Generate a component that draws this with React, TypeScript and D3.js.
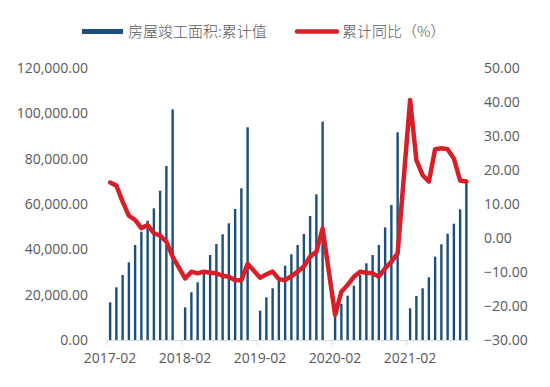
import React, { useRef, useEffect } from 'react';
import * as d3 from 'd3';

// categories: monthly, January kept as empty slot (Jan-Feb reported together)
const years = [2017, 2018, 2019, 2020, 2021];
const months = ['01', '02', '03', '04', '05', '06', '07', '08', '09', '10', '11', '12'];
const categories: string[] = [];
years.forEach(y => months.forEach(m => categories.push(`${y}-${m}`)));
const cats = categories.slice(1, 59); // 2017-02 .. 2021-11

// 房屋竣工面积:累计值 (万平方米), null = January
const completedArea: (number | null)[] = [
    16630, 23250, 28680, 34280, 41910, 47780, 52630, 58110, 65870, 76770, 101790,
    null,
    14430, 21050, 25460, 29120, 37500, 42360, 46640, 51490, 57800, 66930, 93850,
    null,
    12930, 18840, 22810, 26160, 32780, 37810, 41910, 46770, 54710, 64280, 96320,
    null,
    10280, 15880, 19550, 23960, 28680, 33840, 37500, 41910, 49720, 59560, 91640,
    null,
    13990, 19410, 22810, 27660, 36750, 42220, 46900, 51310, 57670, 69840,
];

// 累计同比 (%)
const yoyGrowth: (number | null)[] = [
    16.3, 15.4, 10.7, 6.6, 5.3, 2.9, 3.8, 1.4, 0.7, -1.1, -5.5,
    null,
    -11.9, -9.9, -10.4, -9.9, -10.2, -10.4, -11.1, -11.4, -12.4, -12.4, -7.6,
    null,
    -11.7, -10.7, -9.9, -12.1, -12.4, -11.2, -9.9, -8.4, -5.5, -4.0, 2.8,
    null,
    -22.6, -15.8, -13.8, -11.4, -9.9, -10.2, -10.4, -11.4, -8.9, -7.0, -4.5,
    null,
    40.6, 22.9, 18.5, 16.6, 26.1, 26.4, 26.1, 23.4, 16.9, 16.6,
];

const leftTicks = [0, 20000, 40000, 60000, 80000, 100000, 120000];
const rightTicks = [-30, -20, -10, 0, 10, 20, 30, 40, 50];
const xTickLabels = ['2017-02', '2018-02', '2019-02', '2020-02', '2021-02'];

const barColor = '#1c4f7c';
const lineColor = '#d81e27';
const textColor = '#595959';

const App = () => {
    const svgRef = useRef<SVGSVGElement>(null);

    const width = 550;
    const height = 387;
    const plotLeft = 107;
    const plotRight = 469.5;
    const plotTop = 68;
    const plotBottom = 340;

    useEffect(() => {
        const svg = d3.select(svgRef.current);
        svg.selectAll('*').remove();

        const x = d3.scaleBand().domain(cats).range([plotLeft, plotRight]).padding(0);
        const yL = d3.scaleLinear().domain([0, 120000]).range([plotBottom, plotTop]);
        const yR = d3.scaleLinear().domain([-30, 50]).range([plotBottom, plotTop]);
        const barW = 2.4;
        const font = '"Open Sans", "Liberation Sans", sans-serif';

        // bars
        svg.append('g')
            .selectAll('rect')
            .data(cats.map((c, i) => ({ c, v: completedArea[i] })).filter(d => d.v != null))
            .enter()
            .append('rect')
            .attr('x', d => (x(d.c) as number) + x.bandwidth() / 2 - barW / 2)
            .attr('y', d => yL(d.v as number))
            .attr('width', barW)
            .attr('height', d => plotBottom - yL(d.v as number))
            .attr('fill', barColor);

        // x axis
        svg.append('line')
            .attr('x1', plotLeft).attr('x2', plotRight)
            .attr('y1', plotBottom + 0.5).attr('y2', plotBottom + 0.5)
            .attr('stroke', '#d9d9d9').attr('stroke-width', 1);

        xTickLabels.forEach(lbl => {
            const px = x(lbl) as number;
            svg.append('line')
                .attr('x1', px).attr('x2', px)
                .attr('y1', plotBottom).attr('y2', plotBottom + 5)
                .attr('stroke', '#d9d9d9');
            svg.append('text')
                .attr('x', px + x.bandwidth() / 2)
                .attr('y', 363)
                .attr('text-anchor', 'middle')
                .attr('font-family', font)
                .attr('font-size', 14)
                .attr('fill', textColor)
                .text(lbl);
        });

        // left axis labels
        svg.append('g')
            .selectAll('text')
            .data(leftTicks)
            .enter()
            .append('text')
            .attr('x', 88)
            .attr('y', d => yL(d) + 5)
            .attr('text-anchor', 'end')
            .attr('font-family', font)
            .attr('font-size', 14)
            .attr('fill', textColor)
            .text(d => d3.format(',.2f')(d));

        // right axis labels
        svg.append('g')
            .selectAll('text')
            .data(rightTicks)
            .enter()
            .append('text')
            .attr('x', 484)
            .attr('y', d => yR(d) + 5)
            .attr('text-anchor', 'start')
            .attr('font-family', font)
            .attr('font-size', 14)
            .attr('fill', textColor)
            .text(d => d3.format('.2f')(d));

        // line (Jan gaps bridged)
        const pts = cats.map((c, i) => ({ c, v: yoyGrowth[i] })).filter(d => d.v != null);
        const line = d3.line<{ c: string; v: number | null }>()
            .x(d => (x(d.c) as number) + x.bandwidth() / 2)
            .y(d => yR(d.v as number));
        svg.append('path')
            .attr('d', line(pts))
            .attr('fill', 'none')
            .attr('stroke', lineColor)
            .attr('stroke-width', 4.5)
            .attr('stroke-linejoin', 'round')
            .attr('stroke-linecap', 'round');

        // legend
        const cjk = '"Noto Sans CJK SC", sans-serif';
        svg.append('rect')
            .attr('x', 82).attr('y', 29)
            .attr('width', 41).attr('height', 5)
            .attr('fill', barColor);
        svg.append('text')
            .attr('x', 128).attr('y', 37)
            .attr('font-family', cjk).attr('font-size', 15)
            .attr('font-weight', 300)
            .attr('fill', textColor)
            .text('房屋竣工面积:累计值');
        svg.append('line')
            .attr('x1', 297).attr('x2', 337)
            .attr('y1', 31.5).attr('y2', 31.5)
            .attr('stroke', lineColor).attr('stroke-width', 4.5)
            .attr('stroke-linecap', 'round');
        svg.append('text')
            .attr('x', 342).attr('y', 37)
            .attr('font-family', cjk).attr('font-size', 15)
            .attr('font-weight', 300)
            .attr('fill', textColor)
            .text('累计同比（%）');
    }, []);

    return (
        <div style={{ position: 'absolute', left: 0, top: 0, width, height, background: '#fff' }}>
            <svg ref={svgRef} width={width} height={height} style={{ display: 'block' }}></svg>
        </div>
    );
};

export default App;
